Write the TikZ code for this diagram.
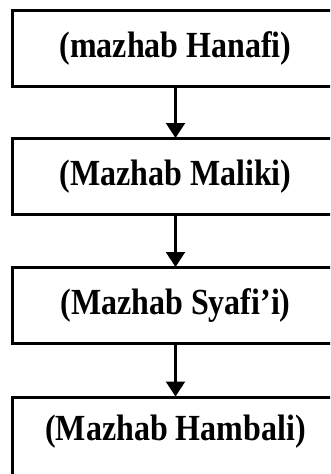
\documentclass[tikz,border=0pt]{standalone}
\usepackage{fontspec}
\setmainfont{Liberation Serif}
\usepackage{graphicx}
\usetikzlibrary{arrows.meta}
\begin{document}
\begin{tikzpicture}[x=1pt,y=-1pt,
  mbox/.style={draw=black, line width=3pt, minimum width=327pt, minimum height=76pt,
    inner sep=0pt, font=\fontsize{32}{36}\selectfont\bfseries},
  flow/.style={line width=2.2pt, -{Triangle[length=15pt,width=19pt]}, shorten >=-1pt}]
\clip (0,0) rectangle (330,474);
\fill[white] (0,0) rectangle (330,474);
\node[mbox] (b1) at (175.5,48) {\scalebox{1}[1.15]{(mazhab Hanafi)}};
\node[mbox] (b2) at (175.5,176.5) {\scalebox{1}[1.15]{(Mazhab Maliki)}};
\node[mbox] (b3) at (175.5,305.5) {\scalebox{1}[1.15]{(Mazhab Syafi’i)}};
\node[mbox, minimum height=80pt] (b4) at (175.5,437) {\raisebox{18pt}{\scalebox{1}[1.15]{(Mazhab Hambali)}}};
\draw[flow] (b1.south) -- (b2.north);
\draw[flow] (b2.south) -- (b3.north);
\draw[flow] (b3.south) -- (b4.north);
\end{tikzpicture}
\end{document}
